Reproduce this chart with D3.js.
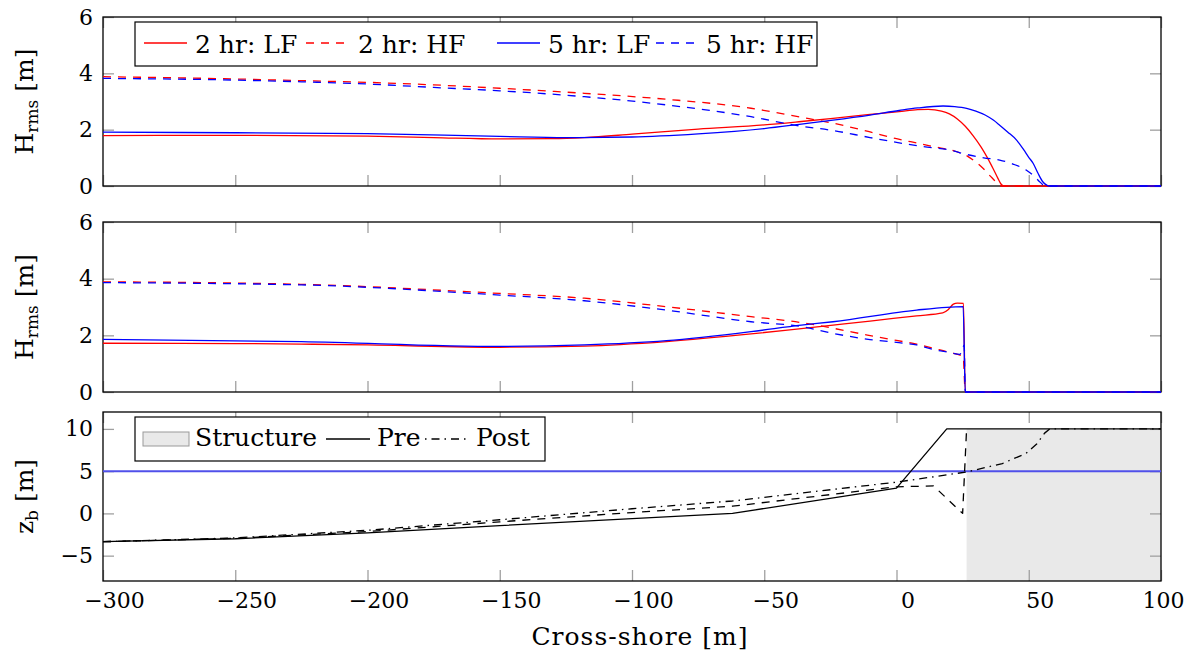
<!DOCTYPE html>
<html>
<head>
<meta charset="utf-8">
<script src="https://cdn.jsdelivr.net/npm/d3@7"></script>
<style>
  body { margin: 0; background: #fff; }
  svg { display: block; }
  text { font-family: "DejaVu Serif", "Liberation Serif", serif; fill: #000; }
</style>
</head>
<body>
<svg id="chart" width="1186" height="651"></svg>
<script>
// ---- axis ticks ----
const crossShoreTicks = [-300, -250, -200, -150, -100, -50, 0, 50, 100];
const hrmsTicks = [0, 2, 4, 6];
const bedTicks = [-5, 0, 5, 10];

// ---- legend labels ----
const waveLabels = ["2 hr: LF", "2 hr: HF", "5 hr: LF", "5 hr: HF"];
const bedLabels = ["Structure", "Pre", "Post"];

// ---- wave height, first run [x (m), Hrms (m)] ----
const lf2hA = [[-300,1.79],[-250,1.80],[-200,1.77],[-175,1.72],[-150,1.67],[-130,1.68],[-118,1.72],[-100,1.84],[-75,2.02],[-50,2.17],[-36,2.29],[-24,2.40],[-10,2.54],[1,2.64],[8,2.71],[12,2.72],[17,2.66],[20,2.56],[23,2.38],[26,2.12],[29,1.78],[32,1.38],[34.5,0.98],[36.5,0.62],[38.3,0.28],[39.5,0.07],[40.5,0],[100,0]];
const hf2hA = [[-300,3.88],[-250,3.80],[-225,3.74],[-200,3.68],[-175,3.59],[-150,3.47],[-118,3.29],[-87,3.08],[-55,2.76],[-36.5,2.45],[-24,2.23],[-10,1.92],[0,1.68],[8,1.52],[16,1.36],[22,1.24],[26.5,1.08],[30,0.85],[32.7,0.63],[36,0.30],[39.8,0],[100,0]];
const lf5hA = [[-300,1.91],[-250,1.89],[-200,1.86],[-150,1.76],[-125,1.72],[-100,1.74],[-75,1.85],[-50,2.04],[-36,2.20],[-24,2.34],[-10,2.52],[1,2.68],[8,2.77],[17.6,2.84],[22,2.82],[26.5,2.76],[30,2.66],[33.5,2.52],[36.6,2.34],[39,2.16],[42,1.92],[45.4,1.63],[48,1.30],[50,1.02],[51.7,0.80],[53.5,0.45],[55.3,0.15],[56.8,0.03],[57.5,0],[100,0]];
const hf5hA = [[-300,3.82],[-250,3.76],[-225,3.70],[-200,3.62],[-175,3.50],[-150,3.38],[-118,3.17],[-87,2.88],[-55,2.46],[-36.5,2.13],[-24,1.97],[-10,1.72],[0,1.55],[10,1.40],[20,1.28],[26.5,1.12],[33,1.00],[39,0.92],[44,0.78],[49,0.57],[52,0.35],[54.5,0.12],[56,0],[100,0]];

// ---- wave height, second run [x (m), Hrms (m)] ----
const lf2hB = [[-300,1.72],[-250,1.71],[-225,1.69],[-200,1.66],[-150,1.58],[-118,1.62],[-87,1.78],[-55,2.05],[-36,2.24],[-24,2.36],[-10,2.50],[7.6,2.69],[17.5,2.79],[19.5,2.90],[21.5,3.10],[23,3.14],[25.3,3.13],[26,0],[100,0]];
const hf2hB = [[-300,3.89],[-225,3.80],[-150,3.48],[-118,3.31],[-87,3.01],[-55,2.66],[-36,2.45],[-24,2.25],[-11,2.01],[0,1.82],[7.6,1.69],[14,1.54],[20,1.40],[25.2,1.25],[26,0],[100,0]];
const lf5hB = [[-300,1.86],[-225,1.78],[-150,1.61],[-118,1.66],[-87,1.81],[-55,2.13],[-36,2.36],[-24,2.48],[7.6,2.89],[18.9,2.99],[25.2,3.01],[26,0],[100,0]];
const hf5hB = [[-300,3.86],[-225,3.78],[-150,3.42],[-118,3.22],[-87,2.89],[-55,2.48],[-36,2.31],[-24,2.07],[-10,1.85],[0,1.75],[7.6,1.66],[14,1.50],[20,1.40],[24,1.33],[25,1.55],[25.6,1.65],[26,0],[100,0]];

// ---- bed level [x (m), zb (m)] ----
const bedPre = [[-300,-3.35],[-250,-3.0],[-200,-2.3],[-150,-1.45],[-62,0],[0,3.0],[19,10],[100,10]];
const bedMid = [[-300,-3.35],[-250,-2.95],[-200,-2.15],[-150,-1.0],[-100,0.1],[-62,0.85],[0,3.15],[14,3.25],[25,0],[26.5,10]];
const bedPost = [[-300,-3.35],[-250,-2.9],[-200,-2.0],[-150,-0.75],[-100,0.55],[-62,1.47],[0,3.7],[26.5,4.9],[40,5.9],[49,7.1],[53,8.2],[56,9.5],[58,10],[100,10]];
const waterLevel = 5;
const structureX = [26.5, 100];
const structureZ = [-8, 10];

// ---- layout ----
const W = 1186;
const svg = d3.select("#chart");
const left = 103, right = 1161;
const panels = [
  { top: 17, bottom: 186, domain: [0, 6], ticks: hrmsTicks },
  { top: 222, bottom: 392, domain: [0, 6], ticks: hrmsTicks },
  { top: 412, bottom: 581, domain: [-8, 12], ticks: bedTicks }
];
const x = d3.scaleLinear().domain([-300, 100]).range([left, right]);
panels.forEach(p => { p.y = d3.scaleLinear().domain(p.domain).range([p.bottom, p.top]); });

const RED = "#ff0000", BLUE = "#0000ff";
const TICK_GRAY = "#a0a0a0";
const DASH = "8,7";
const DASHDOT = "8,5,1.5,5";

// clip regions (slightly padded so lines along the frame stay visible)
const defs = svg.append("defs");
panels.forEach((p, i) => {
  defs.append("clipPath").attr("id", "clip" + i)
    .append("rect").attr("x", left - 1).attr("y", p.top - 1)
    .attr("width", right - left + 2).attr("height", p.bottom - p.top + 2);
});

function drawAxes(p, i, showX) {
  const g = svg.append("g");
  const styleTicks = sel => {
    sel.select(".domain").remove();
    sel.selectAll(".tick line").attr("stroke", TICK_GRAY).attr("stroke-width", 1.3);
    sel.selectAll("text").style("font-size", "22px").attr("fill", "#000");
  };
  const bottomAxis = g.append("g").attr("transform", `translate(0,${p.bottom})`)
    .call(d3.axisBottom(x).tickValues(crossShoreTicks).tickSize(-11).tickPadding(11)
      .tickFormat(showX ? d3.format("") : () => ""))
    .call(styleTicks);
  // labels sit a little right of their ticks; keep the last one inside the page
  bottomAxis.selectAll(".tick text").each(function(d) {
    const w = this.getComputedTextLength();
    const room = (W - 2) - (x(d) + w / 2);
    d3.select(this).attr("dx", Math.min(11, room));
  });
  g.append("g").attr("transform", `translate(0,${p.top})`)
    .call(d3.axisTop(x).tickValues(crossShoreTicks).tickSize(-11).tickFormat(() => ""))
    .call(styleTicks);
  g.append("g").attr("transform", `translate(${left},0)`)
    .call(d3.axisLeft(p.y).tickValues(p.ticks).tickSize(-11).tickPadding(10).tickFormat(d3.format("")))
    .call(styleTicks);
  g.append("g").attr("transform", `translate(${right},0)`)
    .call(d3.axisRight(p.y).tickValues(p.ticks).tickSize(-11).tickFormat(() => ""))
    .call(styleTicks);
  svg.append("rect").attr("x", left).attr("y", p.top)
    .attr("width", right - left).attr("height", p.bottom - p.top)
    .attr("fill", "none").attr("stroke", "#000").attr("stroke-width", 1.3);
}

function drawSeries(p, i, data, color, dash, curve) {
  const line = d3.line().x(d => x(d[0])).y(d => p.y(d[1])).curve(curve);
  svg.append("path").attr("clip-path", `url(#clip${i})`)
    .attr("d", line(data)).attr("fill", "none")
    .attr("stroke", color).attr("stroke-width", 1.3)
    .attr("stroke-dasharray", dash || null)
    .attr("stroke-linejoin", "round");
}

// ---- structure fill in bed panel (drawn beneath everything) ----
{
  const p = panels[2];
  svg.append("rect")
    .attr("x", x(structureX[0])).attr("y", p.y(structureZ[1]))
    .attr("width", x(structureX[1]) - x(structureX[0]))
    .attr("height", p.y(structureZ[0]) - p.y(structureZ[1]))
    .attr("fill", "#e9e9e9");
}

panels.forEach((p, i) => drawAxes(p, i, i === 2));

// ---- wave height panels ----
[[lf2hA, hf2hA, lf5hA, hf5hA], [lf2hB, hf2hB, lf5hB, hf5hB]].forEach((set, i) => {
  const p = panels[i];
  drawSeries(p, i, set[0], RED, null, d3.curveMonotoneX);
  drawSeries(p, i, set[1], RED, DASH, d3.curveMonotoneX);
  drawSeries(p, i, set[2], BLUE, null, d3.curveMonotoneX);
  drawSeries(p, i, set[3], BLUE, DASH, d3.curveMonotoneX);
});

// ---- bed panel ----
{
  const p = panels[2];
  svg.append("line").attr("clip-path", "url(#clip2)")
    .attr("x1", x(-300)).attr("x2", x(100))
    .attr("y1", p.y(waterLevel)).attr("y2", p.y(waterLevel))
    .attr("stroke", "#5050ea").attr("stroke-width", 2);
  drawSeries(p, 2, bedPre, "#000", null, d3.curveLinear);
  drawSeries(p, 2, bedMid, "#000", DASH, d3.curveLinear);
  drawSeries(p, 2, bedPost, "#000", DASHDOT, d3.curveLinear);
}

// ---- axis titles ----
function yTitle(cy, main, sub) {
  const t = svg.append("text")
    .attr("transform", `translate(33,${cy}) rotate(-90)`)
    .attr("text-anchor", "middle").style("font-size", "25px");
  t.append("tspan").text(main);
  t.append("tspan").text(sub).style("font-size", "17px").attr("dy", 5);
  t.append("tspan").text(" [m]").attr("dy", -5);
}
yTitle((panels[0].top + panels[0].bottom) / 2, "H", "rms");
yTitle((panels[1].top + panels[1].bottom) / 2, "H", "rms");
yTitle((panels[2].top + panels[2].bottom) / 2, "z", "b");

svg.append("text").attr("x", 640).attr("y", 645)
  .attr("text-anchor", "middle").style("font-size", "25px")
  .style("letter-spacing", "1px").text("Cross-shore [m]");

// ---- legend: wave heights ----
{
  const lg = svg.append("g");
  lg.append("rect").attr("x", 135).attr("y", 22).attr("width", 682).attr("height", 44)
    .attr("fill", "#fff").attr("stroke", "#000").attr("stroke-width", 1.2);
  const sampleX = [144, 306, 497, 656];
  const textX = [195, 358, 548, 706];
  const colors = [RED, RED, BLUE, BLUE];
  const dashes = [null, DASH, null, DASH];
  waveLabels.forEach((lab, k) => {
    lg.append("line").attr("x1", sampleX[k]).attr("x2", sampleX[k] + 43)
      .attr("y1", 43).attr("y2", 43)
      .attr("stroke", colors[k]).attr("stroke-width", 1.3)
      .attr("stroke-dasharray", dashes[k]);
    lg.append("text").attr("x", textX[k]).attr("y", 53).style("font-size", "25px").text(lab);
  });
}

// ---- legend: bed ----
{
  const lg = svg.append("g");
  lg.append("rect").attr("x", 135).attr("y", 417).attr("width", 410).attr("height", 44)
    .attr("fill", "#fff").attr("stroke", "#000").attr("stroke-width", 1.2);
  lg.append("rect").attr("x", 143).attr("y", 432).attr("width", 46).attr("height", 14)
    .attr("fill", "#e9e9e9").attr("stroke", "#999").attr("stroke-width", 1);
  lg.append("text").attr("x", 195).attr("y", 446).style("font-size", "25px").text(bedLabels[0]);
  lg.append("line").attr("x1", 326).attr("x2", 370).attr("y1", 439).attr("y2", 439)
    .attr("stroke", "#000").attr("stroke-width", 1.3);
  lg.append("text").attr("x", 377).attr("y", 446).style("font-size", "25px").text(bedLabels[1]);
  lg.append("line").attr("x1", 425).attr("x2", 470).attr("y1", 439).attr("y2", 439)
    .attr("stroke", "#000").attr("stroke-width", 1.3).attr("stroke-dasharray", "1.5,5,8,5");
  lg.append("text").attr("x", 476).attr("y", 446).style("font-size", "25px").text(bedLabels[2]);
}
</script>
</body>
</html>
